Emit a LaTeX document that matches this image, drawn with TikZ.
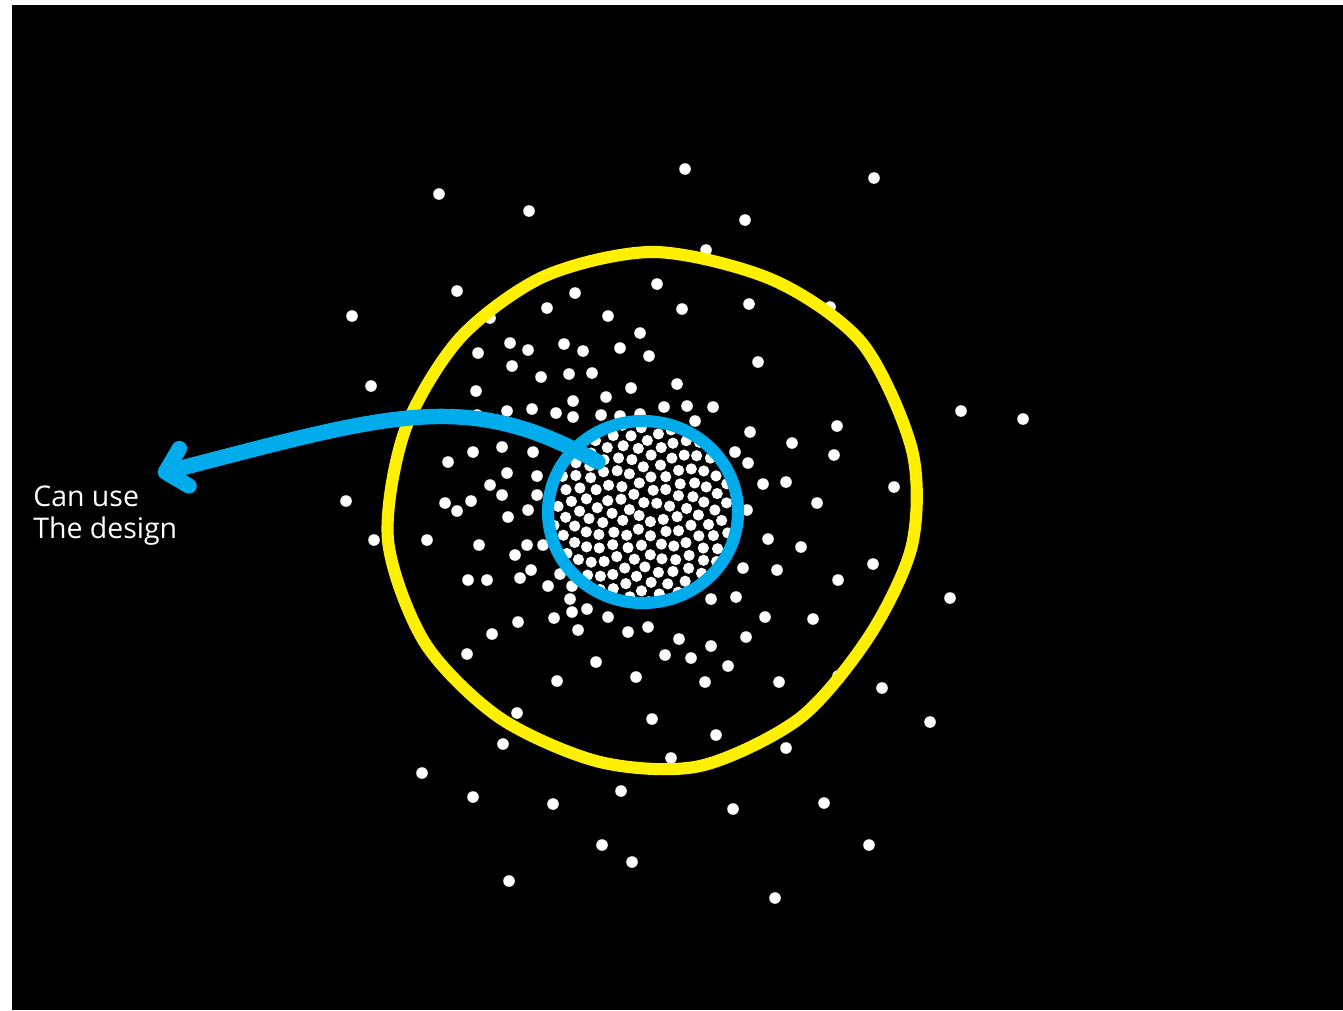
\documentclass[tikz,border=0pt]{standalone}
\usepackage{fontspec}
\setmainfont{Open Sans}
\usetikzlibrary{arrows.meta}
\definecolor{sunyellow}{RGB}{255,240,0}
\definecolor{skyblue}{RGB}{0,172,236}

\begin{document}
\begin{tikzpicture}[x=0.2mm, y=-0.2mm,
    dot/.style={fill=white},
    halo/.style={draw=sunyellow, line width=6.9pt},
    ring/.style={draw=skyblue, line width=6.9pt},
    grabline/.style={draw=skyblue, line width=8.8pt, line cap=round,
      -{Straight Barb[round, length=11pt, width=22pt]}},
    notetext/.style={text=white, font=\fontsize{16.2}{18}\selectfont, align=left, inner sep=0pt}]

    \useasboundingbox (0,0) rectangle (1343,1010);
    % background
    \fill[black] (12,5) rectangle (1343,1010);

    \coordinate (core) at (643,512);

    % scattered dots
    \foreach \x/\y in {685/169, 874/178, 439/194, 529/211, 745/220, 706/250,
        457/291, 352/316, 371/386, 961/411, 1023/419, 894/487, 346/501,
        374/540, 427/540, 950/598, 873/564, 882/688, 930/722, 838/676,
        422/773, 473/797, 503/744, 517/713, 553/804, 621/791, 733/809,
        824/803, 786/748, 716/735, 671/758, 652/719, 602/845, 632/862,
        869/845, 509/881, 775/898}
      \fill[dot] (\x,\y) circle (5.8);

    % middle band
    \foreach \x/\y in {575/293, 547/308, 608/316, 490/318, 640/333, 510/343,
        478/353, 528/350, 564/344, 583/351, 620/348, 649/356, 512/366,
        541/377, 569/374, 592/373, 476/391, 631/388, 606/397, 573/401,
        507/411, 532/409, 556/413, 477/415, 573/417, 601/415, 620/416,
        640/414, 657/284, 682/309, 749/304, 830/307, 758/362, 677/384,
        664/407, 687/406, 713/407, 695/421,
        448/462, 473/452, 502/447, 533/452, 507/473, 537/476, 490/485,
        502/495, 445/503, 457/511, 471/501, 537/495, 508/517, 528/510,
        479/545, 527/545, 515/555, 543/545,
        750/432, 792/443, 837/426, 834/455, 735/452, 748/463, 763/484,
        786/482, 817/503, 747/510, 768/539, 801/547,
        468/580, 487/580, 520/578, 531/570, 548/586, 560/574, 572/586,
        570/599, 587/609, 572/612, 554/618, 578/630, 608/617, 628/632,
        648/627, 518/622, 492/634, 467/654, 596/662, 636/677, 557/681,
        743/568, 777/570, 838/580, 711/599, 736/597, 765/617, 813/619,
        679/639, 711/646, 746/637, 665/655, 691/658, 728/666, 705/682,
        779/682}
      \fill[dot] (\x,\y) circle (5.8);

    % dense core
    \pgfmathsetseed{7}
    \foreach \i in {1,...,142}{
      \pgfmathsetmacro\rr{7.6*sqrt(\i-0.5)+0.8*rand}
      \pgfmathsetmacro\aa{360*(\i*0.381966-floor(\i*0.381966))}
      \fill[dot] ([shift={(\aa:\rr)}]core) circle (5.6);
    }

    % rings
    \draw[halo] plot[smooth cycle] coordinates {(655,252) (773,280) (862,343)
        (912,450) (912,545) (870,635) (800,718) (700,766) (600,762) (500,718)
        (425,643) (388,540) (405,430) (460,338) (545,276)};
    \draw[ring] (core) ellipse (95 and 91);

    % label + arrow
    \node[notetext, anchor=base west] (note) at (33,538) {Can use\\The design};
    \coordinate (grab) at (598,462);
    \coordinate (tip) at (158,474);
    \draw[grabline] (grab) .. controls (467,388) and (391,414) .. (tip);
\end{tikzpicture}
\end{document}
